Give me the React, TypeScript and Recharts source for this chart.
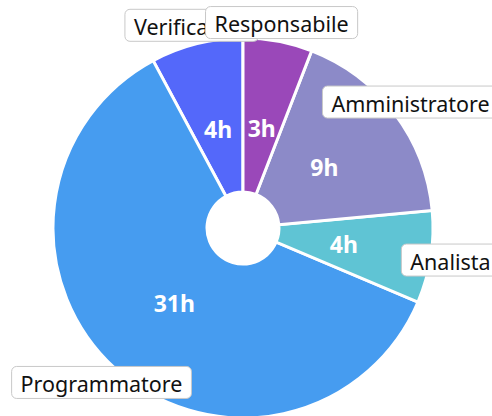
import React from 'react';
import { PieChart, Pie, Cell } from 'recharts';

// reversed order + counterclockwise sweep so Responsabile's label ends up on top
const roles = ['Verificatore', 'Programmatore', 'Analista', 'Amministratore', 'Responsabile'];
const hours = [4, 31, 4, 9, 3];
const colors = ['#5468fa', '#469cf0', '#5fc4d4', '#8c8ac8', '#9a48b9'];

const data = roles.map((name, i) => ({ name, value: hours[i] }));

const RADIAN = Math.PI / 180;
const FONT = '"Noto Sans", sans-serif';

let ctx: CanvasRenderingContext2D | null = null;
const textWidth = (s: string) => {
  if (!ctx) ctx = document.createElement('canvas').getContext('2d');
  if (!ctx) return s.length * 11;
  ctx.font = `21.5px ${FONT}`;
  return ctx.measureText(s).width;
};

const renderLabel = (props: any) => {
  const { cx, cy, midAngle, outerRadius, name, value, index } = props;
  const cos = Math.cos(-midAngle * RADIAN);
  const sin = Math.sin(-midAngle * RADIAN);
  const ix = cx + 102 * cos;
  const iy = cy + 102 * sin;
  const ox = cx + (outerRadius + 20) * cos;
  const oy = cy + (outerRadius + 19) * sin;
  const w = textWidth(name) + 18;
  return (
    <g key={`lbl-${index}`}>
      <text x={ix} y={iy} fill="#fff" fontSize={23} fontWeight="bold" fontFamily={FONT}
        textAnchor="middle" dominantBaseline="central">
        {value}h
      </text>
      <rect x={ox - w / 2} y={oy - 16} width={w} height={32} rx={5} ry={5}
        fill="#fff" stroke="#c8c8c8" strokeWidth={1} />
      <text x={ox} y={oy + 1} fill="#111" fontSize={21.5} fontFamily={FONT}
        textAnchor="middle" dominantBaseline="central">
        {name}
      </text>
    </g>
  );
};

export default function App() {
  return (
    <div style={{ position: 'absolute', left: 0, top: 0 }}>
      <PieChart width={492} height={416}>
        <Pie
          data={data}
          dataKey="value"
          nameKey="name"
          cx={238}
          cy={223}
          innerRadius={36}
          outerRadius={190}
          startAngle={90}
          endAngle={450}
          stroke="#fff"
          strokeWidth={3}
          labelLine={false}
          label={renderLabel}
          isAnimationActive={false}
        >
          {data.map((d, i) => (
            <Cell key={d.name} fill={colors[i]} />
          ))}
        </Pie>
      </PieChart>
    </div>
  );
}
